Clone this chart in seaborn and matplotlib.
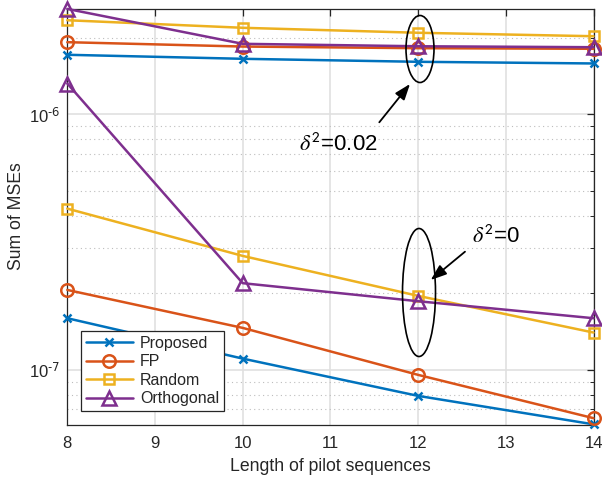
import numpy as np
import pandas as pd
import matplotlib
matplotlib.use("Agg")
import matplotlib.pyplot as plt
import seaborn as sns
from matplotlib.patches import Ellipse, ArrowStyle
from matplotlib.ticker import LogLocator, NullFormatter, FuncFormatter

# ---- data ----
pilot_length = [8, 10, 12, 14]
methods = ["Proposed", "FP", "Random", "Orthogonal"]

# delta^2 = 0.02
proposed_002 = [1.713e-6, 1.652e-6, 1.608e-6, 1.584e-6]
fp_002 = [1.919e-6, 1.845e-6, 1.818e-6, 1.808e-6]
random_002 = [2.339e-6, 2.185e-6, 2.089e-6, 2.025e-6]
orthogonal_002 = [2.59e-6, 1.891e-6, 1.850e-6, 1.834e-6]

# delta^2 = 0
proposed_0 = [1.593e-7, 1.107e-7, 7.91e-8, 6.12e-8]
fp_0 = [2.056e-7, 1.46e-7, 9.56e-8, 6.47e-8]
random_0 = [4.28e-7, 2.794e-7, 1.949e-7, 1.40e-7]
orthogonal_0 = [1.322e-6, 2.185e-7, 1.857e-7, 1.593e-7]

x_ticks = [8, 9, 10, 11, 12, 13, 14]

colors = ["#0072BD", "#D95319", "#EDB120", "#7E2F8E"]
markers = ["x", "o", "s", "^"]
msizes = [6, 9, 7.5, 10]

sns.set_theme(style="white")
plt.rcParams["font.family"] = ["Liberation Sans", "DejaVu Sans"]

fig = plt.figure(figsize=(6.02, 4.80), dpi=100)
ax = fig.add_axes([67.3 / 602, 1 - 424.7 / 480, (593.5 - 67.3) / 602, (424.7 - 8.5) / 480])

groups = {
    "0.02": [proposed_002, fp_002, random_002, orthogonal_002],
    "0": [proposed_0, fp_0, random_0, orthogonal_0],
}

for gi, (g, series) in enumerate(groups.items()):
    for i, (name, vals) in enumerate(zip(methods, series)):
        sns.lineplot(x=pilot_length, y=vals, ax=ax, color=colors[i],
                     marker=markers[i], markersize=msizes[i],
                     markerfacecolor="none" if markers[i] != "x" else colors[i],
                     markeredgecolor=colors[i], markeredgewidth=1.8,
                     linewidth=1.8, label=name if gi == 0 else None,
                     clip_on=False, zorder=3, legend=False)

ax.set_yscale("log")
ax.set_xlim(8, 14)
ax.set_ylim(6.1e-8, 2.6e-6)
ax.set_xticks(x_ticks)
ax.yaxis.set_major_locator(LogLocator(base=10, numticks=10))
ax.yaxis.set_minor_locator(LogLocator(base=10, subs=np.arange(2, 10), numticks=50))
ax.yaxis.set_minor_formatter(NullFormatter())


def log_fmt(v, pos):
    e = int(round(np.log10(v)))
    return r"$\mathdefault{10^{\text{%d}}}$" % e


ax.yaxis.set_major_formatter(FuncFormatter(log_fmt))

ax.grid(True, which="major", axis="both", color="#E0E0E0", linewidth=1.2, linestyle="-")
ax.grid(True, which="minor", axis="y", color="#BDBDBD", linewidth=0.8, linestyle=(0, (1, 3)))
ax.set_axisbelow(True)

for s in ax.spines.values():
    s.set_color("#262626")
    s.set_linewidth(0.9)
    s.set_visible(True)

ax.tick_params(which="both", direction="in", top=True, right=True, colors="#262626",
               labelcolor="#262626")
ax.tick_params(which="major", length=5, width=0.9, labelsize=12)
ax.tick_params(axis="x", which="major", pad=8)
ax.tick_params(axis="y", which="major", pad=5)
ax.tick_params(which="minor", length=3, width=0.7)

ax.set_xlabel("Length of pilot sequences", fontsize=12.7, color="#262626", labelpad=5)
ax.set_ylabel("Sum of MSEs", fontsize=12.7, color="#262626", labelpad=2.5)

leg = ax.legend(loc="lower left", bbox_to_anchor=(0.0255, 0.0329), borderaxespad=0,
                fontsize=11.5, frameon=True, fancybox=False, framealpha=1,
                edgecolor="#262626", handlelength=3.0, labelspacing=0.22,
                borderpad=0.3, handletextpad=0.4)
leg.get_frame().set_linewidth(0.9)

# ---- annotations ----
for (cx, cy, w, h) in [(420, 49, 28, 67), (419, 292.5, 33, 128)]:
    e = Ellipse((cx / 602, 1 - cy / 480), w / 602, h / 480, transform=fig.transFigure,
                fill=False, edgecolor="black", linewidth=1.2, zorder=5)
    fig.add_artist(e)

astyle = ArrowStyle("-|>", head_length=0.6, head_width=0.22)
for (tail, head) in [((379.3, 122.3), (410, 84)), ((465, 251.7), (430.7, 280))]:
    ax.annotate("", xy=(head[0] / 602, 1 - head[1] / 480), xycoords="figure fraction",
                xytext=(tail[0] / 602, 1 - tail[1] / 480), textcoords="figure fraction",
                arrowprops=dict(arrowstyle=astyle, color="black", lw=1.3,
                                mutation_scale=16, shrinkA=0, shrinkB=0))

fig.text(299 / 602, 1 - 145 / 480, r"$\delta^{\mathsf{2}}$=0.02", fontsize=16,
         math_fontfamily="stix", ha="left", va="center", color="black")
fig.text(472 / 602, 1 - 237 / 480, r"$\delta^{\mathsf{2}}$=0", fontsize=16,
         math_fontfamily="stix", ha="left", va="center", color="black")

fig.savefig("out.png", dpi=100)
